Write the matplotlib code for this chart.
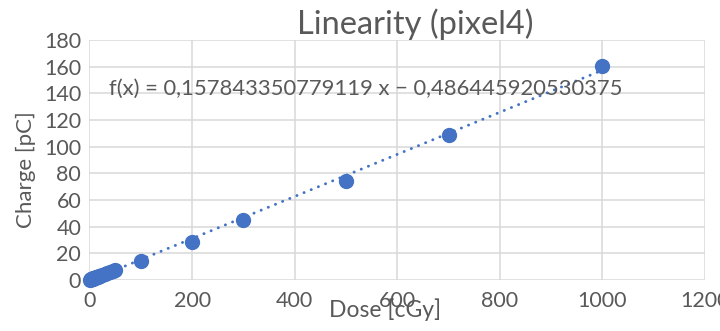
import numpy as np
import matplotlib.pyplot as plt

plt.rcParams['font.family'] = ['Lato', 'DejaVu Sans']

# measured dose (cGy) and collected charge (pC), pixel 4
dose = [1, 2, 3, 4, 5, 6, 7, 8, 9, 10, 12, 14, 16, 18, 20,
        25, 30, 35, 40, 45, 50,
        100, 200, 300, 500, 700, 1000]
charge = [0.2, 0.4, 0.6, 0.7, 0.9, 1.0, 1.2, 1.3, 1.5, 1.6, 1.9, 2.2, 2.5, 2.8, 3.1,
          3.8, 4.6, 5.4, 6.1, 6.8, 7.5,
          14.2, 28.7, 45.0, 74.4, 108.6, 160.5]

# linear trendline reported by the spreadsheet
slope = 0.157843350779119
intercept = -0.486445920530375

xticks = [0, 200, 400, 600, 800, 1000, 1200]
yticks = [0, 20, 40, 60, 80, 100, 120, 140, 160, 180]

blue = '#4472C4'
grey = '#595959'

fig = plt.figure(figsize=(7.2, 3.31), dpi=100)
ax = fig.add_axes([0.1243, 0.1541, 0.8549, 0.7251])

x_fit = np.array([0, max(dose)])
ax.plot(x_fit, slope * x_fit + intercept, color=blue, linewidth=2.1,
        linestyle=(0, (0.05, 2.6)), dash_capstyle='round', zorder=2)
ax.plot(dose, charge, linestyle='none', marker='o', markersize=10,
        color=blue, zorder=3, clip_on=False)

ax.set_xlim(0, 1200)
ax.set_ylim(0, 180)
ax.set_xticks(xticks)
ax.set_yticks(yticks)
ax.grid(True, color='#d9d9d9', linewidth=1.1)
ax.set_axisbelow(True)
for s in ax.spines.values():
    s.set_visible(False)
ax.tick_params(length=0, labelsize=15.5, labelcolor=grey)
ax.tick_params(axis='y', pad=6)
ax.tick_params(axis='x', pad=8)

ax.text(0.031, 0.795, 'f(x) = 0,157843350779119 x \u2212 0,486445920530375',
        transform=ax.transAxes, fontsize=15.8, color=grey, va='center', ha='left')

fig.text(415 / 720, 1 - 24 / 331, 'Linearity (pixel4)', fontsize=23.5,
         color=grey, ha='center', va='center')
fig.text(385 / 720, 1 - 298 / 331, 'Dose [cGy]', fontsize=16.5,
         color=grey, ha='center', va='top')
fig.text(26 / 720, 1 - 170 / 331, 'Charge [pC]', fontsize=16,
         color=grey, ha='center', va='center', rotation=90)

fig.savefig('out.png', dpi=100)
